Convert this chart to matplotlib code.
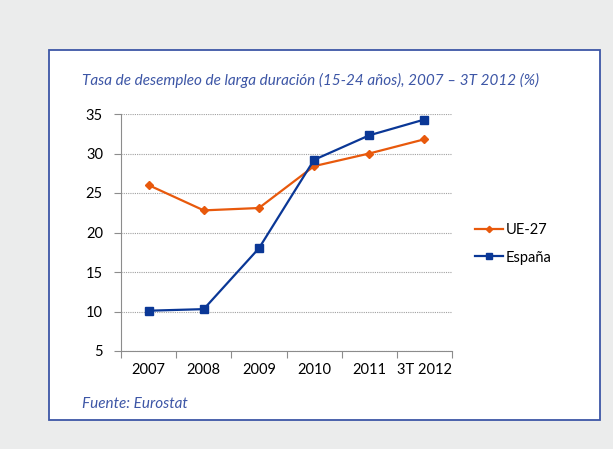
import numpy as np
import matplotlib.pyplot as plt
from matplotlib.patches import Rectangle

# Data
categories = ['2007', '2008', '2009', '2010', '2011', '3T 2012']
ue27 = [26.0, 22.8, 23.1, 28.4, 30.0, 31.8]
espana = [10.1, 10.3, 18.0, 29.2, 32.3, 34.3]

plt.rcParams['font.family'] = ['Lato', 'DejaVu Sans']

W, H = 613, 449
fig = plt.figure(figsize=(W / 100, H / 100), dpi=100)
fig.patch.set_facecolor('#ebecec')

# white panel with blue frame
fig.patches.append(Rectangle((49 / W, 1 - 420 / H), (600 - 49) / W, (420 - 50) / H,
                             transform=fig.transFigure, facecolor='white',
                             edgecolor='#3d56a6', linewidth=1.3, zorder=-5))

ax = fig.add_axes([121 / W, 1 - 351 / H, (452 - 121) / W, (351 - 114) / H])
ax.set_zorder(2)
ax.patch.set_alpha(0)

x = np.arange(len(categories))
ax.plot(x, ue27, color='#e8590c', marker='D', markersize=4, linewidth=1.6, label='UE-27')
ax.plot(x, espana, color='#0a3796', marker='s', markersize=6, linewidth=1.6, label='España')

ax.set_xlim(-0.5, len(categories) - 0.5)
ax.set_ylim(5, 35)
ax.set_yticks(range(5, 36, 5))
ax.yaxis.grid(True, linestyle=(0, (1, 1)), color='#a0a0a0', linewidth=0.8)
ax.set_axisbelow(True)

ax.set_xticks(np.arange(-0.5, len(categories), 1.0))
ax.set_xticklabels([])
ax.set_xticks(x, minor=True)
ax.set_xticklabels(categories, minor=True)
ax.tick_params(axis='x', which='minor', length=0, pad=9, labelsize=10.5)
ax.tick_params(axis='x', which='major', length=5, color='#8c8c8c', direction='out')
ax.tick_params(axis='y', length=5, color='#8c8c8c', labelsize=10.5, pad=8)

for s in ['top', 'right']:
    ax.spines[s].set_visible(False)
for s in ['left', 'bottom']:
    ax.spines[s].set_color('#8c8c8c')

fig.text(82 / W, 1 - 80 / H, 'Tasa de desempleo de larga duración (15-24 años), 2007 – 3T 2012 (%)',
         style='italic', color='#3d56a6', fontsize=11, va='center', ha='left')
fig.text(82 / W, 1 - 404 / H, 'Fuente: Eurostat', style='italic', color='#3d56a6',
         fontsize=11, va='center', ha='left')

leg = fig.legend(loc='center left', bbox_to_anchor=(462 / W, 1 - 244 / H), frameon=False,
                 fontsize=10.5, handlelength=1.9, handletextpad=0.2, labelspacing=0.9,
                 markerscale=0.8)

fig.savefig('out.png', dpi=100, facecolor=fig.get_facecolor())
